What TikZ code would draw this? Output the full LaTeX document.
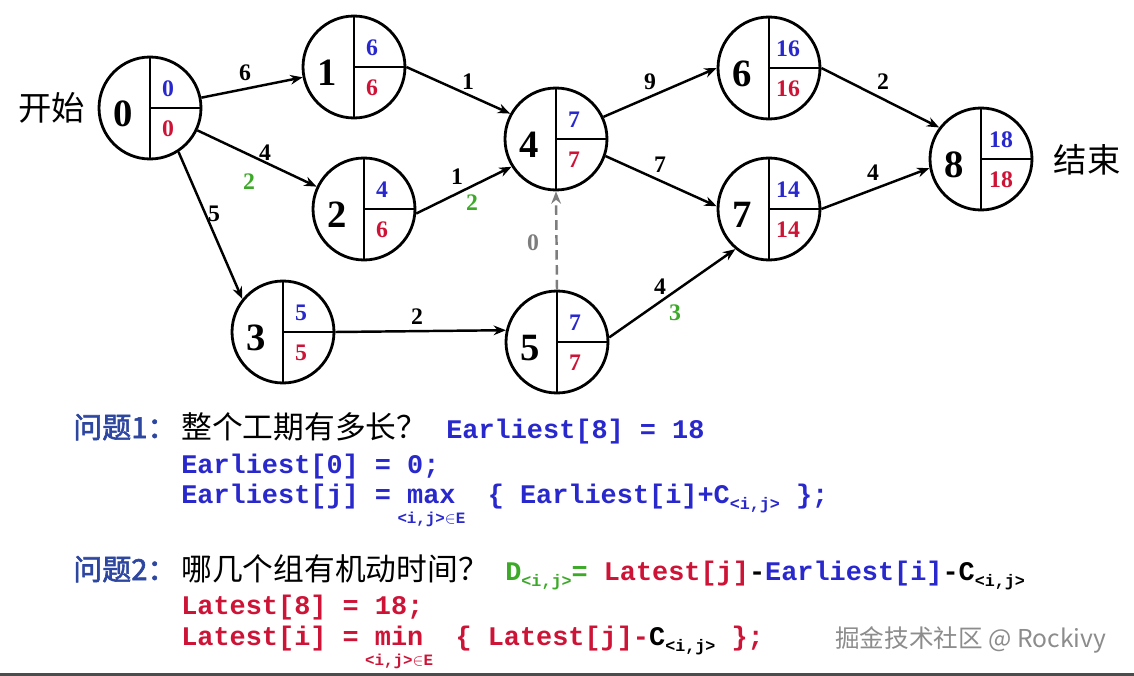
\documentclass[tikz,border=0pt]{standalone}
\usepackage{amsmath}
\usepackage{fontspec}
\setmainfont{Liberation Serif}
\setmonofont{Liberation Mono}
\newfontfamily\cjk[AutoFakeBold=2]{Noto Sans CJK SC}
\usetikzlibrary{arrows.meta}
\definecolor{esblue}{RGB}{40,40,205}
\definecolor{lsred}{RGB}{205,20,55}
\definecolor{slackgreen}{RGB}{60,170,40}
\definecolor{navyq}{RGB}{45,70,160}
\definecolor{dummygray}{RGB}{125,125,125}
\newcommand{\subij}[1]{\raisebox{-3.5pt}{\fontsize{9.5}{10}\selectfont #1}}
\newcommand{\limij}{\hbox to 0pt{\hss\fontsize{9}{10}\selectfont\rule{0pt}{9pt}<i,j>$\in$E\hss}}

\begin{document}
\begin{tikzpicture}[x=0.02cm, y=-0.02cm, >={Stealth[length=7pt,width=5.5pt]},
  evt/.style={circle, draw, line width=1.6pt, minimum size=2.04cm, inner sep=0pt,
    path picture={\draw[line width=1.6pt] (path picture bounding box.north) -- (path picture bounding box.south)
      (path picture bounding box.center) -- (path picture bounding box.east);}},
  num/.style={inner sep=0pt, font=\fontsize{22}{24}\selectfont\bfseries},
  es/.style={inner sep=0pt, font=\fontsize{13.5}{15}\selectfont\bfseries, text=esblue},
  ls/.style={es, text=lsred},
  wt/.style={inner sep=0pt, font=\fontsize{13.5}{15}\selectfont\bfseries},
  act/.style={->, line width=1.4pt},
  code/.style={anchor=base west, inner sep=0pt, font=\fontsize{15.3}{17}\selectfont\ttfamily\bfseries},
  qn/.style={anchor=base west, inner sep=0pt, text=navyq, font=\fontsize{16.5}{18}\selectfont\cjk\bfseries},
  qt/.style={anchor=base west, inner sep=0pt, font=\fontsize{17.5}{19}\selectfont\cjk}]
\useasboundingbox (0,0) rectangle (1134,676);
\fill[white] (0,0) rectangle (1134,676);

% Events: number, earliest (blue), latest (red)
\node[evt] (n0) at (150,108) {};
\node[num] (n0n) at (123,114) {0};
\node[es] (n0e) at (168,89) {0};
\node[ls] (n0l) at (168,129) {0};

\node[evt] (n1) at (354,67) {};
\node[num] (n1n) at (327,73) {1};
\node[es] (n1e) at (372,48) {6};
\node[ls] (n1l) at (372,88) {6};

\node[evt] (n2) at (364,209) {};
\node[num] (n2n) at (337,215) {2};
\node[es] (n2e) at (382,190) {4};
\node[ls] (n2l) at (382,230) {6};

\node[evt] (n3) at (283,332) {};
\node[num] (n3n) at (256,338) {3};
\node[es] (n3e) at (301,313) {5};
\node[ls] (n3l) at (301,353) {5};

\node[evt] (n4) at (556,139) {};
\node[num] (n4n) at (529,145) {4};
\node[es] (n4e) at (574,120) {7};
\node[ls] (n4l) at (574,160) {7};

\node[evt] (n5) at (557,342) {};
\node[num] (n5n) at (530,348) {5};
\node[es] (n5e) at (575,323) {7};
\node[ls] (n5l) at (575,363) {7};

\node[evt] (n6) at (769,68) {};
\node[num] (n6n) at (742,74) {6};
\node[es] (n6e) at (788,49) {16};
\node[ls] (n6l) at (788,89) {16};

\node[evt] (n7) at (769,209) {};
\node[num] (n7n) at (742,215) {7};
\node[es] (n7e) at (788,190) {14};
\node[ls] (n7l) at (788,230) {14};

\node[evt] (n8) at (981,159) {};
\node[num] (n8n) at (954,165) {8};
\node[es] (n8e) at (1001,140) {18};
\node[ls] (n8l) at (1001,180) {18};

\node[font=\fontsize{19}{21}\selectfont\cjk] (start) at (52,108) {开始};
\node[font=\fontsize{19}{21}\selectfont\cjk] (finish) at (1087,160) {结束};

% Activities
\draw[act] (n0) -- (n1);
\draw[act] (n0) -- (n2);
\draw[act] (n0.-57) -- (n3.141);
\draw[act] (n1.east) -- (n4.151);
\draw[act] (n2.-5) -- (n4.212);
\draw[act] (n3.east) -- (n5.167);
\draw[act, dummygray, dash pattern=on 5.5pt off 3pt] (n5.north) -- (n4.south);
\draw[act] (n4.25) -- (n6.180);
\draw[act] (n4.-19) -- (n7.177);
\draw[act] (n5.5) -- (n7.230);
\draw[act] (n6.east) -- (n8.143);
\draw[act] (n7.east) -- (n8.190);

% Durations and slack
\node[wt] (w01) at (245,73) {6};
\node[wt] (w02) at (265,153) {4};
\node[wt, text=slackgreen] (d02) at (249,182) {2};
\node[wt] (w03) at (214,214) {5};
\node[wt] (w14) at (468,82) {1};
\node[wt] (w24) at (457,177) {1};
\node[wt, text=slackgreen] (d24) at (472,203) {2};
\node[wt] (w35) at (417,317) {2};
\node[wt, text=dummygray] (w54) at (533,243) {0};
\node[wt] (w46) at (650,82) {9};
\node[wt] (w47) at (660,165) {7};
\node[wt] (w57) at (660,287) {4};
\node[wt, text=slackgreen] (d57) at (675,313) {3};
\node[wt] (w68) at (883,82) {2};
\node[wt] (w78) at (873,173) {4};

% Questions
\node[qn] (q1) at (73,438) {问题1：};
\node[qt] (q1t) at (181,438) {整个工期有多长？};
\node[code, text=esblue] (e8) at (446,438) {Earliest[8] = 18};
\node[code, text=esblue] (e0) at (181,473) {Earliest[0] = 0;};
\node[code, text=esblue] (ej) at (181,503) {Earliest[j] = $\mathop{\hbox{max}}\limits_{\limij}$ \ \{ Earliest[i]+C\subij{<i,j>} \};};

\node[qn] (q2) at (73,580) {问题2：};
\node[qt] (q2t) at (181,580) {哪几个组有机动时间？};
\node[code] (slack) at (505,580) {\textcolor{slackgreen}{D\subij{<i,j>}=} \textcolor{lsred}{Latest[j]}-\textcolor{esblue}{Earliest[i]}-C\subij{<i,j>}};
\node[code, text=lsred] (l8) at (181,614) {Latest[8] = 18;};
\node[code, text=lsred] (li) at (181,645) {Latest[i] = $\mathop{\hbox{min}}\limits_{\limij}$ \ \{ Latest[j]-\textcolor{black}{C\subij{<i,j>}} \};};

\node[anchor=west, inner sep=0pt, text=black!45, font=\fontsize{14}{16}\selectfont\cjk] (mark) at (835,640) {掘金技术社区 @ Rockivy};
\draw[black!70, line width=2pt] (0,675) -- (1134,675);
\end{tikzpicture}
\end{document}
